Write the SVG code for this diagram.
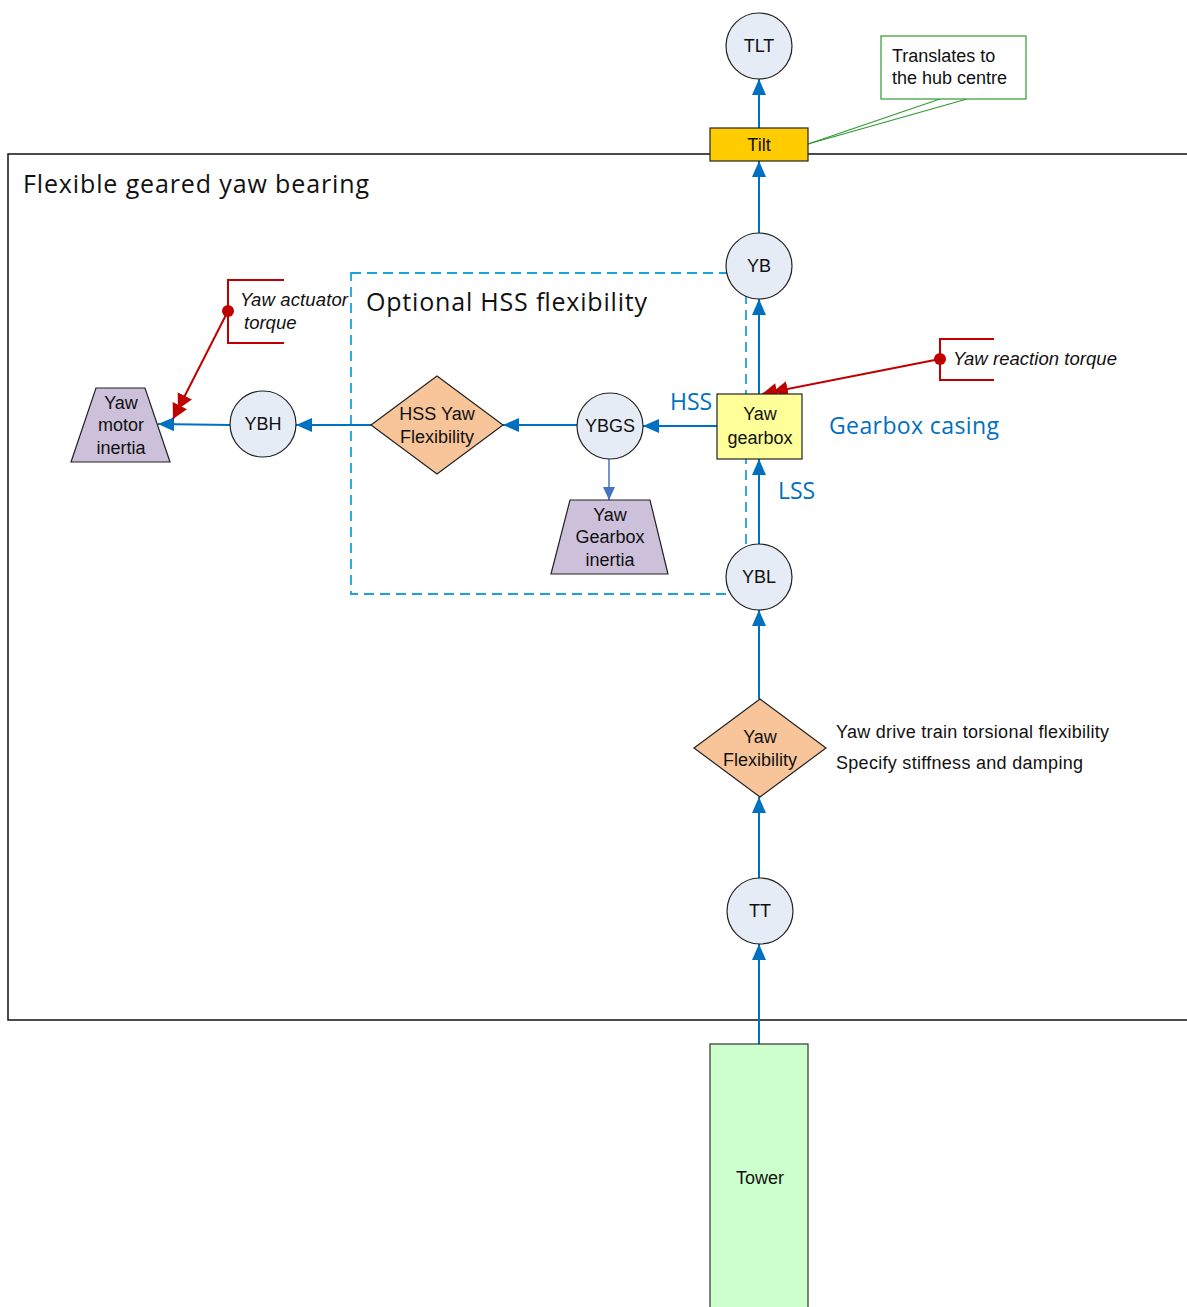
<svg xmlns="http://www.w3.org/2000/svg" width="1187" height="1307" viewBox="0 0 1187 1307">
<style>
.lbl{font-family:"Liberation Sans",Arial,sans-serif;font-size:18px;fill:#111;text-anchor:middle}
.side{font-family:"Liberation Sans",Arial,sans-serif;font-size:18px;fill:#111}
.it{font-family:"Liberation Sans",Arial,sans-serif;font-size:18.5px;font-style:italic;fill:#111}
.cal{font-family:"Open Sans","Noto Sans",sans-serif;font-size:25px;fill:#111}
.blue{font-family:"Open Sans","Noto Sans",sans-serif;font-size:23px;fill:#0070C0}
.circ{fill:#E6ECF6;stroke:#222;stroke-width:1.2}
.flow{stroke:#0070C0;stroke-width:2;fill:none;marker-end:url(#ab)}
.red{stroke:#C00000;stroke-width:2;fill:none}
</style>
<defs>
<marker id="ab" markerUnits="userSpaceOnUse" markerWidth="17" markerHeight="15" refX="16" refY="7" orient="auto"><path d="M0,0 L16,7 L0,14 z" fill="#0070C0"/></marker>
<marker id="ab2" markerUnits="userSpaceOnUse" markerWidth="14" markerHeight="13" refX="13" refY="6" orient="auto"><path d="M0,0 L13,6 L0,12 z" fill="#4472C4"/></marker>
<marker id="ar" markerUnits="userSpaceOnUse" markerWidth="28" markerHeight="16" refX="26" refY="8" orient="auto"><path d="M0,0 L15,8 L0,16 z M11,0 L26,8 L11,16 z" fill="#C00000"/></marker>
</defs>
<rect width="1187" height="1307" fill="#fff"/>
<g id="frame">
<rect x="8" y="154" width="1190" height="866" fill="none" stroke="#111" stroke-width="1.5"/>
<text class="cal" x="23" y="193" textLength="346">Flexible geared yaw bearing</text>
</g>
<g id="hss-group">
<rect x="351" y="273" width="395" height="321" fill="none" stroke="#1BA1E2" stroke-width="1.8" stroke-dasharray="10,6"/>
<text class="cal" x="366" y="311" textLength="281">Optional HSS flexibility</text>
</g>
<g id="connectors">
<line class="flow" x1="759" y1="128" x2="759" y2="79"/>
<line class="flow" x1="759" y1="233" x2="759" y2="161"/>
<line class="flow" x1="759" y1="394" x2="759" y2="299"/>
<line class="flow" x1="759" y1="544" x2="759" y2="459"/>
<line class="flow" x1="759" y1="699" x2="759" y2="610"/>
<line class="flow" x1="759" y1="878" x2="759" y2="797"/>
<line class="flow" x1="759" y1="1044" x2="759" y2="944"/>
<line class="flow" x1="717" y1="426" x2="643" y2="426"/>
<line class="flow" x1="577" y1="425" x2="503" y2="425"/>
<line class="flow" x1="371" y1="425" x2="296" y2="425"/>
<line class="flow" x1="230" y1="425" x2="158" y2="424"/>
<line x1="609" y1="459" x2="609" y2="500" stroke="#4472C4" stroke-width="1.5" marker-end="url(#ab2)"/>
<polyline points="808,144 940,99" stroke="#339933" stroke-width="1.2" fill="none"/>
<polyline points="808,144 967,99" stroke="#339933" stroke-width="1.2" fill="none"/>
<line class="red" x1="228" y1="311" x2="173" y2="419" marker-end="url(#ar)"/>
<line class="red" x1="940" y1="359" x2="762" y2="394" marker-end="url(#ar)"/>
</g>
<g id="TLT"><circle class="circ" cx="759" cy="46" r="33"/><text class="lbl" x="759" y="52">TLT</text></g>
<g id="Tilt"><rect x="710" y="128" width="98" height="33" fill="#FFCC00" stroke="#222" stroke-width="1.2"/><text class="lbl" x="759" y="151">Tilt</text></g>
<g id="callout"><rect x="881" y="36" width="145" height="63" fill="#fff" stroke="#339933" stroke-width="1.2"/><text class="side" x="892" y="62">Translates to</text><text class="side" x="892" y="84">the hub centre</text></g>
<g id="YB"><circle class="circ" cx="759" cy="266" r="33"/><text class="lbl" x="759" y="272">YB</text></g>
<g id="YawGearbox"><rect x="717" y="394" width="85" height="65" fill="#FFFF99" stroke="#222" stroke-width="1.2"/><text class="lbl" x="760" y="420">Yaw</text><text class="lbl" x="760" y="444">gearbox</text></g>
<g id="YBL"><circle class="circ" cx="759" cy="577" r="33"/><text class="lbl" x="759" y="583">YBL</text></g>
<g id="YawFlexibility"><polygon points="760,699 826,748 760,797 694,748" fill="#F8C49A" stroke="#222" stroke-width="1.2"/><text class="lbl" x="760" y="743">Yaw</text><text class="lbl" x="760" y="766">Flexibility</text></g>
<g id="TT"><circle class="circ" cx="760" cy="911" r="33"/><text class="lbl" x="760" y="917">TT</text></g>
<g id="Tower"><rect x="710" y="1044" width="98" height="270" fill="#CCFFCC" stroke="#333" stroke-width="1.2"/><text class="lbl" x="760" y="1184">Tower</text></g>
<g id="YBGS"><circle class="circ" cx="610" cy="426" r="33"/><text class="lbl" x="610" y="432">YBGS</text></g>
<g id="HSSYawFlexibility"><polygon points="437,376 503,425 437,474 371,425" fill="#F8C49A" stroke="#222" stroke-width="1.2"/><text class="lbl" x="437" y="420">HSS Yaw</text><text class="lbl" x="437" y="443">Flexibility</text></g>
<g id="YBH"><circle class="circ" cx="263" cy="424" r="33"/><text class="lbl" x="263" y="430">YBH</text></g>
<g id="YawMotorInertia"><polygon points="96,388 145,388 170,462 71,462" fill="#CCC0DA" stroke="#222" stroke-width="1.2"/><text class="lbl" x="121" y="409">Yaw</text><text class="lbl" x="121" y="431">motor</text><text class="lbl" x="121" y="454">inertia</text></g>
<g id="YawGearboxInertia"><polygon points="570,500 650,500 668,574 551,574" fill="#CCC0DA" stroke="#222" stroke-width="1.2"/><text class="lbl" x="610" y="521">Yaw</text><text class="lbl" x="610" y="543">Gearbox</text><text class="lbl" x="610" y="566">inertia</text></g>
<g id="YawActuatorTorque"><polyline class="red" points="284,280 228,280 228,343 284,343"/><circle cx="228" cy="311" r="6" fill="#C00000"/><text class="it" x="240" y="306" textLength="108">Yaw actuator</text><text class="it" x="244" y="329">torque</text></g>
<g id="YawReactionTorque"><polyline class="red" points="994,339 940,339 940,380 994,380"/><circle cx="940" cy="359" r="6" fill="#C00000"/><text class="it" x="953" y="365" textLength="164">Yaw reaction torque</text></g>
<g id="labels">
<text class="blue" x="670" y="410">HSS</text>
<text class="blue" x="778" y="499">LSS</text>
<text class="blue" x="829" y="434" textLength="170">Gearbox casing</text>
<text class="side" x="836" y="738" textLength="273">Yaw drive train torsional flexibility</text>
<text class="side" x="836" y="769" textLength="247">Specify stiffness and damping</text>
</g>
</svg>
